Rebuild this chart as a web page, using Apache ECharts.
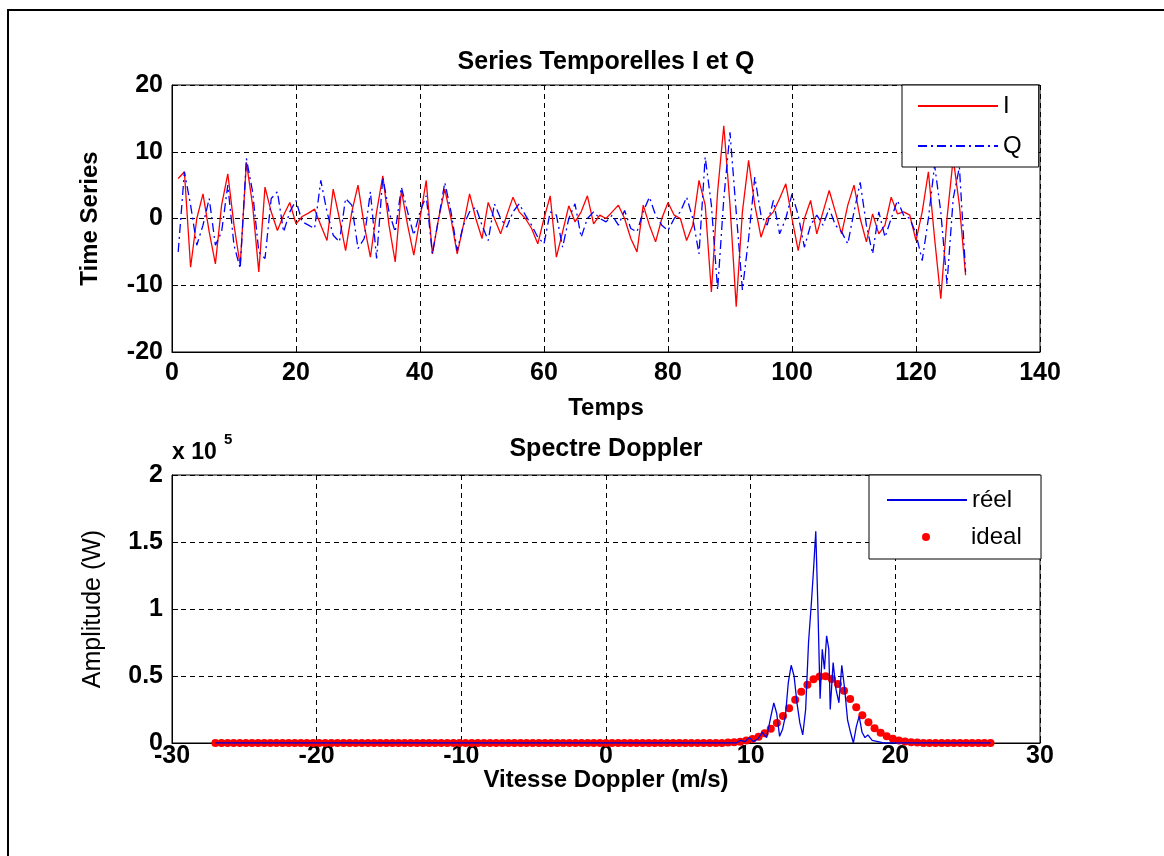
<!DOCTYPE html>
<html><head><meta charset="utf-8">
<script src="https://cdn.jsdelivr.net/npm/echarts@6/dist/echarts.min.js"></script>
<style>html,body{margin:0;padding:0;background:#fff}#c{width:1164px;height:856px}</style>
</head><body><div id="c"></div>
<script>
// ---- Top: time series I and Q (samples 1..128) ----
const seriesI = [
 6, 7, -7.3, 0, 3.7, -2, -6.8, 2, 6.7, -1, -7, 8.4,
 2, -8, 4.7, 1, -1.8, 0.5, 2.4, -0.8, 0.3, 0.8, 1.4, -1,
 -3.3, 4.4, 0, -4.8, 1, 5, -1, -5.8, 1, 6.4, -1, -6.5,
 4.2, -1, -5.5, 0, 5.7, -5.3, 0, 4.4, 0, -5.3, -1, 3.7,
 0, -3, 2.4, 0, -2.3, 0.5, 3.2, 1, 0, -1.5, -3.8, 0,
 3.4, -5.8, -2, 1.9, -0.5, 1, 3.4, -0.8, 0.5, 0, 1, 2,
 0, -3, -5, 2, -1, -3.5, 0, 2.4, 0.5, 0, -3.3, -1,
 5.7, 2, -11, 4, 13.9, 2, -13.2, 1, 8.7, 2, -2.8, 0,
 1, 3, 5.2, 0, -4.8, 0, 2.7, -2.3, 1, 4.2, 1, -2.3,
 2, 5, 0, -3.5, 0.7, -2.3, -1, 3.2, 0.7, 1, 0.5, -3.3,
 1, 7, -3, -12, 0, 9, 2, -8.5
];
const seriesQ = [
 -5, 7, 2, -4, -1, 3, -4, -2, 5, -4, -7.5, 9,
 4, -5, -6, 3, 4, -2, 1, 2.7, -0.5, -1, -1.5, 5.7,
 1, -2.5, -3.5, 3, 2, -4.5, -3, 4, -6, 6.2, 1, -2,
 4.7, 1, -2.5, 1, 3.4, -5.3, 0, 5.4, 1, -4.8, -1, 1,
 1.7, -1, -3.3, 2.2, 0, -1.3, 1, 2.2, 0.5, -1, -2.8, -3.8,
 1, 0.5, -4.3, 0, 2.2, -2.8, 0, 1, 0, -0.5, 0.5, -1,
 1.2, -1.5, -2, 1, 3.2, 0.5, -1, -1.8, 0, 1, 3.2, 0,
 -5.3, 9.2, 2, -10.7, 3, 12.9, 1, -10.7, -3, 6.2, 0.5, -1,
 2.7, -2.3, 0, 3.7, 0.5, -4.3, -1, 0.5, -1, 1.5, -1, -2,
 -3.8, 1, 5.4, -1, -5.3, 1, -2.8, 0, 2.7, 0.5, 0, -2.3,
 -6.3, 0, 8, 1, -9.8, 3, 7.7, -8
];
const timeTicks = [0, 20, 40, 60, 80, 100, 120, 140];
const tsTicks = [-20, -10, 0, 10, 20];

// ---- Bottom: Doppler spectrum (amplitude in units of 1e5 W) ----
const velStart = -27, velStep = 0.421875; // 128 Doppler bins
const idealAmp = [
 0,0,0,0,0,0,0,0,0,0,0,0,
 0,0,0,0,0,0,0,0,0,0,0,0,
 0,0,0,0,0,0,0,0,0,0,0,0,
 0,0,0,0,0,0,0,0,0,0,0,0,
 0,0,0,0,0,0,0,0,0,0,0,0,
 0,0,0,0,0,0,0,0,0,0,0,0,
 0,0,0,0,0,0,0,0,0,0,0,0,
 0.003,0.006,0.010,0.018,0.030,0.047,0.072,0.106,0.149,0.201,0.260,0.322,
 0.383,0.435,0.475,0.497,0.498,0.478,0.440,0.389,0.329,0.267,0.207,0.155,
 0.110,0.076,0.050,0.031,0.019,0.011,0.006,0.003,
 0,0,0,0,0,0,0,0,0,0,0,0
];
const reelVel = [-27, 9.0, 9.3, 9.6, 9.9, 10.2, 10.5, 10.8, 11.1, 11.4, 11.6, 11.8, 12.0, 12.2, 12.4, 12.6, 12.8, 13.0, 13.2, 13.4, 13.6, 13.8, 14.0, 14.2, 14.35, 14.5, 14.65, 14.8, 14.95, 15.1, 15.25, 15.4, 15.5, 15.7, 15.9, 16.1, 16.3, 16.5, 16.7, 16.9, 17.1, 17.3, 17.5, 17.7, 17.9, 18.1, 18.4, 18.8, 19.2, 26.58];
const reelAmp = [0, 0, 0.02, 0.01, 0.04, 0.01, 0.03, 0.08, 0.04, 0.2, 0.3, 0.22, 0.05, 0.1, 0.2, 0.45, 0.58, 0.5, 0.3, 0.15, 0.06, 0.25, 0.75, 1.05, 1.3, 1.58, 1.0, 0.33, 0.7, 0.55, 0.8, 0.7, 0.25, 0.6, 0.4, 0.3, 0.58, 0.4, 0.17, 0.08, 0.0, 0.12, 0.2, 0.08, 0.04, 0.06, 0.02, 0.01, 0, 0];
const velTicks = [-30, -20, -10, 0, 10, 20, 30];
const ampTicks = [0, 0.5, 1, 1.5, 2];

const FONT = "'Liberation Sans', Arial, sans-serif";
const gridDash = {type: [5, 4], color: '#000', width: 1};
function xAx(idx, ticks, name, gap, margin) {
  return {
    type: 'value', gridIndex: idx, min: ticks[0], max: ticks[ticks.length-1],
    interval: ticks[1]-ticks[0],
    name: name, nameLocation: 'middle', nameGap: gap, nameMoveOverlap: false,
    nameTextStyle: {fontFamily: FONT, fontWeight: 'bold', fontSize: 24, color: '#000'},
    axisLine: {onZero: false, lineStyle: {color: '#000', width: 1}},
    axisTick: {inside: true, length: 6, lineStyle: {color: '#000'}},
    axisLabel: {fontFamily: FONT, fontWeight: 'bold', fontSize: 25, color: '#000', margin: margin},
    splitLine: {show: true, lineStyle: gridDash}
  };
}
function yAx(idx, ticks, name, gap, bold) {
  return {
    type: 'value', gridIndex: idx, min: ticks[0], max: ticks[ticks.length-1],
    interval: ticks[1]-ticks[0],
    name: name, nameLocation: 'middle', nameGap: gap, nameRotate: 90,
    nameTextStyle: {fontFamily: FONT, fontWeight: bold ? 'bold' : 'normal', fontSize: bold ? 24 : 25, color: '#000'},
    axisLine: {onZero: false, lineStyle: {color: '#000', width: 1}},
    axisTick: {inside: true, length: 6, lineStyle: {color: '#000'}},
    axisLabel: {fontFamily: FONT, fontWeight: 'bold', fontSize: 25, color: '#000', margin: 9,
      formatter: v => String(v)},
    splitLine: {show: true, lineStyle: gridDash}
  };
}
const legendText = {fontFamily: FONT, fontSize: 24, lineHeight: 24, color: '#000'};

const chart = echarts.init(document.getElementById('c'), null, {renderer: 'canvas'});
chart.setOption({
  animation: false,
  backgroundColor: '#fff',
  title: [
    {text: 'Series Temporelles I et Q', left: 606, top: 50, textAlign: 'center', padding: 0,
     textStyle: {fontFamily: FONT, fontWeight: 'bold', fontSize: 25, color: '#000'}},
    {text: 'Spectre Doppler', left: 606, top: 437, textAlign: 'center', padding: 0,
     textStyle: {fontFamily: FONT, fontWeight: 'bold', fontSize: 25, color: '#000'}}
  ],
  grid: [
    {left: 172, top: 85, width: 868, height: 267, show: true, borderColor: '#000', borderWidth: 1, backgroundColor: '#fff'},
    {left: 172, top: 475, width: 868, height: 268, show: true, borderColor: '#000', borderWidth: 1, backgroundColor: '#fff'}
  ],
  xAxis: [xAx(0, timeTicks, 'Temps', 44, 9), xAx(1, velTicks, 'Vitesse Doppler (m/s)', 25, 1)],
  yAxis: [yAx(0, tsTicks, 'Time Series', 70, true), yAx(1, ampTicks, 'Amplitude (W)', 66, false)],
  legend: [
    {data: ['I', 'Q'], orient: 'vertical', left: 902, top: 85, z: 4,
     backgroundColor: '#fff', borderColor: '#000', borderWidth: 1, padding: [9, 17, 9, 15],
     itemWidth: 80, itemHeight: 1, itemGap: 16, selectedMode: false, textStyle: legendText},
    {data: ['réel'], orient: 'vertical', left: 869, top: 475, z: 4,
     backgroundColor: '#fff', borderColor: '#000', borderWidth: 1, padding: [13, 29, 47, 17],
     itemWidth: 80, itemHeight: 1, itemGap: 13, selectedMode: false, textStyle: legendText},
    {data: ['ideal'], orient: 'vertical', left: 922, top: 525, z: 10,
     padding: 0, itemWidth: 80, itemHeight: 8, selectedMode: false, textStyle: legendText}
  ],
  graphic: [
    {type: 'line', shape: {x1: 7, y1: 10, x2: 1164, y2: 10}, style: {stroke: '#000', lineWidth: 2}},
    {type: 'line', shape: {x1: 8, y1: 10, x2: 8, y2: 856}, style: {stroke: '#000', lineWidth: 2}},
    {type: 'text', left: 172, top: 441, style: {text: 'x 10', font: "bold 23px 'Liberation Sans', Arial", fill: '#000'}},
    {type: 'text', left: 224, top: 432, style: {text: '5', font: "bold 15px 'Liberation Sans', Arial", fill: '#000'}}
  ],
  series: [
    {name: 'I', type: 'line', xAxisIndex: 0, yAxisIndex: 0, symbol: 'none',
     lineStyle: {color: '#ff0000', width: 1.3}, itemStyle: {color: '#ff0000'},
     data: seriesI.map((v, i) => [i + 1, v])},
    {name: 'Q', type: 'line', xAxisIndex: 0, yAxisIndex: 0, symbol: 'none',
     lineStyle: {color: '#0000ff', width: 1.3, type: [9, 4, 2, 4]}, itemStyle: {color: '#0000ff'},
     data: seriesQ.map((v, i) => [i + 1, v])},
    {name: 'réel', type: 'line', xAxisIndex: 1, yAxisIndex: 1, symbol: 'none',
     lineStyle: {color: '#0000e0', width: 1.3}, itemStyle: {color: '#0000e0'},
     data: reelVel.map((v, i) => [v, reelAmp[i]])},
    {name: 'ideal', type: 'scatter', xAxisIndex: 1, yAxisIndex: 1, symbol: 'circle', symbolSize: 8,
     itemStyle: {color: '#ff0000', opacity: 1},
     data: idealAmp.map((a, i) => [velStart + i * velStep, a])}
  ]
});
</script></body></html>
